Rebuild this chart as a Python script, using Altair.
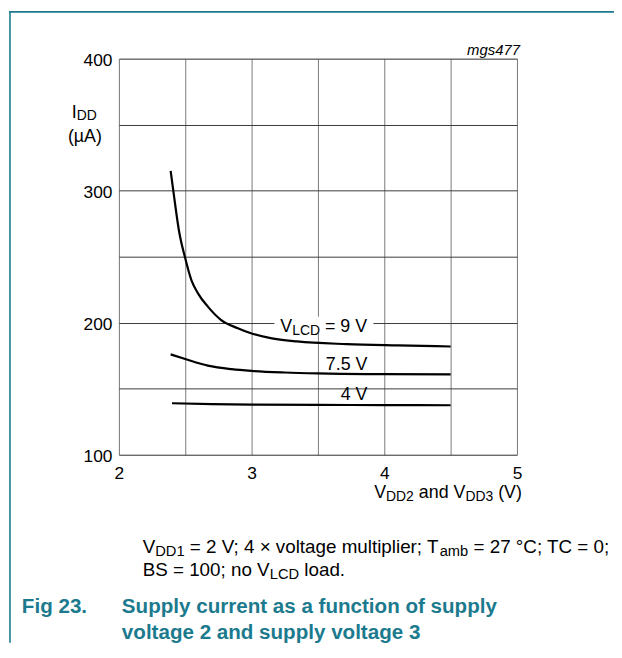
import altair as alt
import pandas as pd

# ---------------- data ----------------
v9_x = [2.39, 2.41, 2.453, 2.498, 2.547, 2.597, 2.672, 2.771, 2.896, 2.995, 3.144, 3.343, 3.716, 4.1, 4.5]
v9_y = [315, 300, 269.5, 249.5, 232, 222, 212, 202, 195.8, 192, 188.3, 185.8, 183.8, 182.8, 182]
v75_x = [2.39, 2.5, 2.67, 2.85, 3.0, 3.25, 3.5, 4.0, 4.5]
v75_y = [176, 172.5, 167.5, 164.8, 163.5, 162.3, 161.6, 161.0, 160.8]
v4_x = [2.4, 2.7, 3.0, 3.5, 4.0, 4.5]
v4_y = [139, 138.3, 137.9, 137.7, 137.6, 137.5]

x_grid = [2, 2.5, 3, 3.5, 4, 4.5, 5]
y_grid = [100, 150, 200, 250, 300, 350, 400]

# white box behind the "VLCD = 9 V" label (data units)
box_x = [3.172, 3.918]
box_y = [192.5, 204.5]

TEAL = "#1c7a8e"
FONT = "Liberation Sans"

# ---------------- text metrics (Arial / Liberation Sans) ----------------
REG = {" ": 278, "(": 333, ")": 333, ".": 278, ";": 278, "=": 584, "A": 667, "B": 667,
       "C": 722, "D": 722, "I": 278, "L": 556, "S": 667, "T": 611, "V": 667, "a": 556,
       "b": 556, "d": 556, "e": 556, "g": 556, "i": 222, "l": 222, "m": 833, "n": 556,
       "o": 556, "p": 556, "r": 333, "t": 278, "u": 556, "v": 500, "y": 500, "°": 400,
       "×": 584, "µ": 556}
for d in "0123456789":
    REG[d] = 556
BOLD = {" ": 278, ".": 278, "F": 611, "S": 667, "a": 556, "c": 556, "d": 611, "e": 556,
        "f": 333, "g": 611, "i": 278, "l": 278, "n": 611, "o": 611, "p": 611, "r": 389,
        "s": 556, "t": 333, "u": 611, "v": 556, "y": 556}
for d in "0123456789":
    BOLD[d] = 556

SUB_R = 0.78
SUB_SHIFT = 0.16


def width(text, table):
    return sum(table.get(ch, 556) for ch in text) / 1000.0


def pieces(segments, x0, y0, size, table=REG, color="black", align="left"):
    sizes = [size * SUB_R if sub else size for _, sub in segments]
    total = sum(width(t, table) * s for (t, _), s in zip(segments, sizes))
    x = x0 - total if align == "right" else x0
    rows = []
    for (t, sub), s in zip(segments, sizes):
        stripped = t.lstrip(" ")
        lead = len(t) - len(stripped)
        rows.append({"t": stripped, "x": x + width(" " * lead, table) * s,
                     "y": y0 + (size * SUB_SHIFT if sub else 0), "s": s, "c": color})
        x += width(t, table) * s
    return rows


# ---------------- annotation text (plot-pixel coordinates) ----------------
reg_rows = []
reg_rows += pieces([("I", False), ("DD", True)], -47.5, 59.5, 18)
reg_rows += pieces([("(µA)", False)], -51.5, 84.5, 18)
reg_rows += pieces([("V", False), ("DD2", True), (" and V", False), ("DD3", True), (" (V)", False)], 407, 444, 18,
                   align="right")
reg_rows += pieces([("V", False), ("LCD", True), (" = 9 V", False)], 163, 276, 18)
reg_rows += pieces([("7.5 V", False)], 251, 314, 18, align="right")
reg_rows += pieces([("4 V", False)], 251, 344.7, 18, align="right")
reg_rows += pieces([("V", False), ("DD1", True), (" = 2 V; 4 × voltage multiplier; T", False), ("amb", True),
                    (" = 27 °C; TC = 0;", False)], 24, 499, 19)
reg_rows += pieces([("BS = 100; no V", False), ("LCD", True), (" load.", False)], 24, 522, 19)
reg_df = pd.DataFrame(reg_rows)

bold_rows = []
bold_rows += pieces([("Fig 23.", False)], -98, 560, 20.8, BOLD, TEAL)
bold_rows += pieces([("Supply current as a function of supply", False)], 3, 560, 20.8, BOLD, TEAL)
bold_rows += pieces([("voltage 2 and supply voltage 3", False)], 3, 586, 20.8, BOLD, TEAL)
bold_df = pd.DataFrame(bold_rows)

curves = pd.DataFrame(
    [{"v": x, "i": y, "s": "9 V"} for x, y in zip(v9_x, v9_y)]
    + [{"v": x, "i": y, "s": "7.5 V"} for x, y in zip(v75_x, v75_y)]
    + [{"v": x, "i": y, "s": "4 V"} for x, y in zip(v4_x, v4_y)]
)

xs = alt.Scale(domain=[2, 5], nice=False, zero=False)
ys = alt.Scale(domain=[100, 400], nice=False, zero=False)

base_axes = alt.Chart(curves).mark_line(strokeWidth=2.2, color="black", interpolate="monotone").encode(
    x=alt.X("v:Q", scale=xs, title=None,
            axis=alt.Axis(values=x_grid,
                          labelExpr="datum.value % 1 == 0 ? format(datum.value, 'd') : ''",
                          grid=True, gridColor="#7a7a7a", gridWidth=1, domain=False, ticks=False,
                          labelPadding=10, labelFontSize=17.5, labelFont=FONT, labelColor="black",
                          labelAngle=0, labelFlush=False)),
    y=alt.Y("i:Q", scale=ys, title=None,
            axis=alt.Axis(values=y_grid,
                          labelExpr="datum.value % 100 == 0 ? format(datum.value, 'd') : ''",
                          grid=True, gridColor="#3a3a3a", gridWidth=1, domain=False, ticks=False,
                          labelPadding=7, labelFontSize=17.5, labelFont=FONT, labelColor="black",
                          labelFlush=False, labelOffset=1.5)),
    detail="s:N",
)

box = alt.Chart(pd.DataFrame({"x1": [box_x[0]], "x2": [box_x[1]], "y1": [box_y[0]], "y2": [box_y[1]]})).mark_rect(
    color="white").encode(
    x=alt.X("x1:Q", scale=xs), x2="x2:Q", y=alt.Y("y1:Q", scale=ys), y2="y2:Q")

reg_text = alt.Chart(reg_df).mark_text(align="left", baseline="alphabetic", font=FONT).encode(
    x=alt.X("x:Q", scale=None, axis=None), y=alt.Y("y:Q", scale=None, axis=None),
    text="t:N", size=alt.Size("s:Q", scale=None), color=alt.Color("c:N", scale=None))

bold_text = alt.Chart(bold_df).mark_text(align="left", baseline="alphabetic", font=FONT, fontWeight="bold").encode(
    x=alt.X("x:Q", scale=None, axis=None), y=alt.Y("y:Q", scale=None, axis=None),
    text="t:N", size=alt.Size("s:Q", scale=None), color=alt.Color("c:N", scale=None))

one = pd.DataFrame({"a": [0]})
tag = alt.Chart(one).mark_text(text="mgs477", align="right", baseline="alphabetic", font=FONT,
                               fontStyle="italic", fontSize=15, color="black").encode(
    x=alt.value(405), y=alt.value(-4))

left_line = alt.Chart(one).mark_rule(color=TEAL, strokeWidth=1.6).encode(
    x=alt.value(-110), y=alt.value(-48), y2=alt.value(590))
top_line = alt.Chart(one).mark_rule(color=TEAL, strokeWidth=1.6).encode(
    x=alt.value(-110.8), x2=alt.value(500), y=alt.value(-47.2))

chart = alt.layer(box, base_axes, reg_text, bold_text, tag, left_line, top_line).properties(
    width=402, height=400,
    autosize=alt.AutoSizeParams(type="none"),
    padding={"left": 112, "top": 48, "right": 98, "bottom": 188},
).configure_view(stroke="#444", strokeWidth=1.2).configure(background="white")

chart.save("out.html", embed_options={"renderer": "svg", "actions": False})
